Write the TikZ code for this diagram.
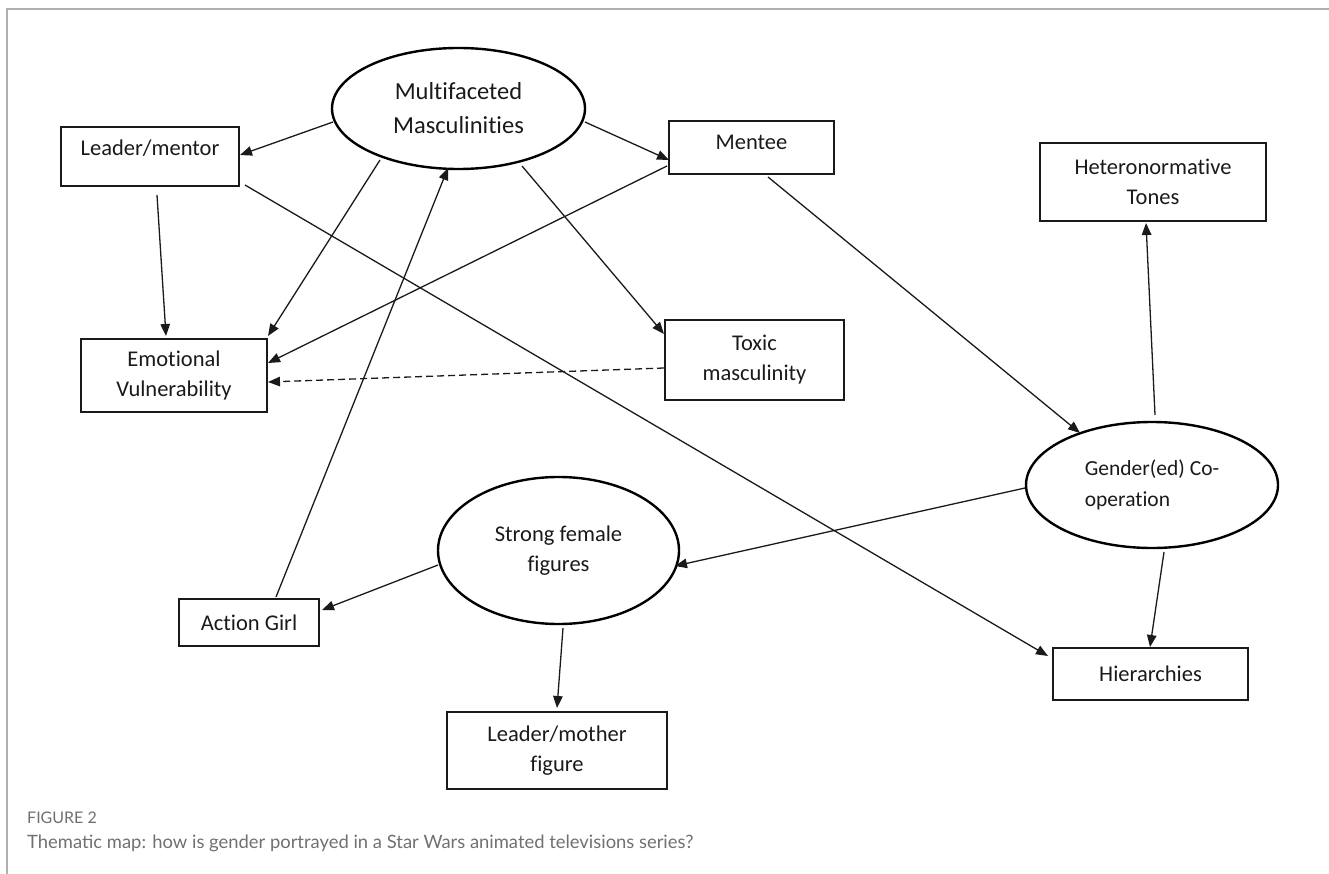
\documentclass[tikz,border=0pt]{standalone}
\usepackage{fontspec}
\setmainfont{Carlito}[Ligatures={NoCommon,NoRequired,NoContextual},RawFeature={-liga;-clig;-calt;-dlig}]
\newfontfamily\capfont{Lato}
\usetikzlibrary{arrows.meta,shapes.geometric,calc}
\definecolor{framegray}{HTML}{B0B0B0}
\definecolor{capgray}{HTML}{707070}
\definecolor{inkblack}{HTML}{1A1A1A}
\begin{document}
\begin{tikzpicture}[x=1pt,y=-1pt,
  box/.style={draw=inkblack, rectangle, line width=1.4pt, inner sep=0pt, outer sep=0pt,
    align=center, text=inkblack, font=\fontsize{22.5}{30}\selectfont},
  oval/.style={draw=black, ellipse, line width=2.4pt, inner sep=0pt, outer sep=0pt,
    align=center, text=inkblack, font=\fontsize{22.5}{30}\selectfont},
  conn/.style={draw=inkblack, line width=1.3pt, -{Triangle[length=12pt,width=9.5pt]}},
  dconn/.style={conn, dash pattern=on 7pt off 4pt},
  framestyle/.style={draw=framegray, line width=1.6pt},
  captitle/.style={anchor=west, inner sep=0pt, text=capgray, font=\capfont\fontsize{16}{18}\selectfont},
  captext/.style={anchor=west, inner sep=0pt, text=capgray, font=\capfont\fontsize{18.4}{20}\selectfont}
]
\useasboundingbox (0,0) rectangle (1329,874);
% frame
\coordinate (fr1) at (7,874);
\coordinate (fr2) at (7,9);
\coordinate (fr3) at (1329,9);
\draw[framestyle] (fr1) -- (fr2) -- (fr3);

% nodes
\node[oval, minimum width=253pt, minimum height=121pt, font=\fontsize{24.5}{34}\selectfont] (mm) at (458.5,108.5) {Multifaceted\\Masculinities};
\node[box, minimum width=178pt, minimum height=59pt, text height=16pt, text depth=18pt] (lm) at (150,156.5) {Leader/mentor};
\node[box, minimum width=165pt, minimum height=53pt, text height=14.5pt, text depth=10pt] (me) at (751.5,147.5) {Mentee};
\node[box, minimum width=226pt, minimum height=78pt] (ht) at (1153,182) {Heteronormative\\Tones};
\node[box, minimum width=186pt, minimum height=73pt] (ev) at (174,375.5) {Emotional\\Vulnerability};
\node[box, minimum width=179pt, minimum height=80pt] (tx) at (754.5,360) {Toxic\\masculinity};
\node[oval, minimum width=252pt, minimum height=126pt, align=left, font=\fontsize{21.5}{31}\selectfont] (gc) at (1152,485) {Gender(ed) Co-\\operation};
\node[oval, minimum width=241pt, minimum height=147pt] (sf) at (558.5,550.5) {Strong female\\figures};
\node[box, minimum width=140pt, minimum height=47pt] (ag) at (249,622.5) {Action Girl};
\node[box, minimum width=220pt, minimum height=77pt] (lmo) at (557,750.5) {Leader/mother\\figure};
\node[box, minimum width=195pt, minimum height=52pt] (hi) at (1150.5,674) {Hierarchies};

% connectors
\draw[conn] ($(mm.center)+(-125.5,13.5)$) -- ($(lm.center)+(90,-1.5)$);
\draw[conn] ($(mm.center)+(126.5,13.5)$) -- ($(me.center)+(-82.5,12.5)$);
\draw[conn] ($(mm.center)+(-78.5,51.5)$) -- ($(ev.center)+(94,-39.5)$);
\draw[conn] ($(mm.center)+(63.5,57.5)$) -- ($(tx.center)+(-90.5,-26)$);
\draw[conn] ($(ag.center)+(27,-25.5)$) -- ($(mm.center)+(-10.5,59.5)$);
\draw[conn] ($(lm.center)+(7,38.5)$) -- ($(ev.center)+(-8,-39.5)$);
\draw[conn] ($(me.center)+(-84.5,18.5)$) -- ($(ev.center)+(94,-12.5)$);
\draw[dconn] ($(tx.center)+(-90.5,8)$) -- ($(ev.center)+(94,6.5)$);
\draw[conn] ($(lm.center)+(95,28.5)$) -- ($(hi.center)+(-102.5,-18)$);
\draw[conn] ($(me.center)+(16.5,29.5)$) -- ($(gc.center)+(-72,-52)$);
\draw[conn] ($(gc.center)+(3,-70)$) -- ($(ht.center)+(-7,41)$);
\draw[conn] ($(gc.center)+(-127,3)$) -- ($(sf.center)+(116.5,15.5)$);
\draw[conn] ($(gc.center)+(12,67)$) -- ($(hi.center)+(-0.5,-27)$);
\draw[conn] ($(sf.center)+(-120.5,14.5)$) -- ($(ag.center)+(73,-12.5)$);
\draw[conn] ($(sf.center)+(4.5,77.5)$) -- ($(lmo.center)+(0,-42.5)$);

% caption
\node[captitle] (figlabel) at (27,818) {FIGURE 2};
\node[captext] (figcaption) at (27,843) {Thematic map: how is gender portrayed in a Star Wars animated televisions series?};
\end{tikzpicture}
\end{document}
